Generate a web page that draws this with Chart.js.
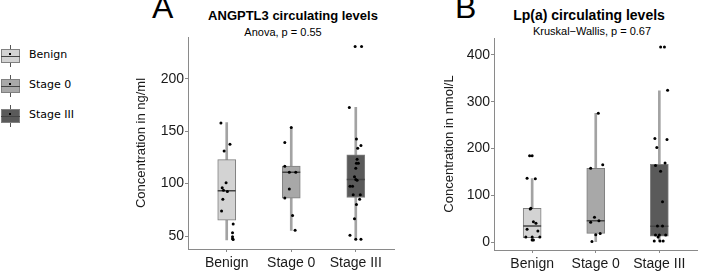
<!DOCTYPE html>
<html>
<head>
<meta charset="utf-8">
<script src="https://cdn.jsdelivr.net/npm/chart.js@4.4.1/dist/chart.umd.min.js"></script>
<style>
body { margin: 0; background: #fff; width: 708px; height: 274px; position: relative; overflow: hidden; font-family: "Liberation Sans", Arial, sans-serif; }
canvas { position: absolute; top: 0; }
.letter { position: absolute; font-size: 32px; line-height: 32px; color: #000; }
.title { position: absolute; width: 300px; text-align: center; font-weight: bold; color: #000; line-height: 1; }
.sub { position: absolute; width: 300px; text-align: center; font-size: 11px; line-height: 11px; color: #000; }
.leg { position: absolute; left: 0; height: 22px; }
.leg .wh { position: absolute; left: 10px; top: 0; width: 1px; height: 22px; background: #555; }
.leg .bx { position: absolute; left: 1px; top: 4px; width: 17px; height: 12px; border: 1px solid #808080; }
.leg .md { position: absolute; left: 1px; top: 11px; width: 19px; height: 1px; background: #444; }
.leg .dt { position: absolute; left: 9px; top: 8px; width: 2px; height: 2px; background: #000; }
.leg .tx { position: absolute; left: 29px; top: 3px; font-family: "DejaVu Sans", sans-serif; font-size: 11px; line-height: 14px; color: #000; white-space: nowrap; }
</style>
</head>
<body>
<div id="legend"></div>
<div class="letter" style="left:152px; top:-9px">A</div>
<div class="letter" style="left:455px; top:-9px">B</div>
<div class="title" style="left:143px; top:9px; font-size:13px">ANGPTL3 circulating levels</div>
<div class="sub" style="left:133px; top:27px">Anova, p = 0.55</div>
<div class="title" style="left:439px; top:8px; font-size:14px">Lp(a) circulating levels</div>
<div class="sub" style="left:442px; top:26px">Kruskal−Wallis, p = 0.67</div>
<canvas id="chartA" width="285" height="274" style="left:120px"></canvas>
<canvas id="chartB" width="288" height="274" style="left:420px"></canvas>
<script>
const categories = ["Benign", "Stage 0", "Stage III"]
const fills = ["#d3d3d3", "#a8a8a8", "#5a5a5a"]

// ANGPTL3, ng/ml : box stats per group
const angLow = [46.2, 55.4, 46.9]
const angQ1 = [65.2, 86.2, 86.8]
const angMedian = [93.2, 110.9, 104]
const angQ3 = [123, 116.7, 127.4]
const angHigh = [158.3, 153.5, 172.8]
const angTicks = [50, 100, 150, 200]

// ANGPTL3 raw points (value, jitter from group centre)
const angBenign = [158, 137.6, 131.2, 100.8, 96, 93.8, 92.5, 85, 73.8, 61.4, 53.2, 49.4, 47.4, 46.6]
const angBenignJit = [-0.09, 0.05, -0.04, -0.01, -0.07, -0.05, 0.01, -0.06, -0.08, 0.1, 0.09, 0.09, 0.09, 0.1]
const angStage0 = [153.5, 139.2, 116.7, 110.9, 110.9, 95, 86.2, 69.7, 55.4]
const angStage0Jit = [0, -0.1, -0.1, -0.03, 0.07, -0.03, -0.1, 0.02, 0.06]
const angStage3 = [230.9, 230.9, 172.8, 142.6, 136.3, 133.8, 123.3, 119.5, 119.5, 114.7, 106.5, 104, 103.3, 97.6, 97.6, 89.3, 89.3, 85, 80.2, 66.5, 50.7, 46.9, 46.9]
const angStage3Jit = [-0.01, 0.09, -0.1, 0.01, 0.08, 0.03, 0.02, 0.01, 0.04, 0, -0.02, 0, 0.02, -0.09, -0.05, -0.04, 0.07, 0.06, 0.01, -0.02, -0.09, 0, 0.08]

// Lp(a), nmol/L : box stats per group
const lpaLow = [4, 1, 2]
const lpaQ1 = [9.3, 18.5, 12.8]
const lpaMedian = [34.2, 45.6, 33.5]
const lpaQ3 = [72, 157.6, 166.2]
const lpaHigh = [135.4, 275.2, 323]
const lpaTicks = [0, 100, 200, 300, 400]

const lpaBenign = [184.6, 184.6, 136.2, 135.4, 72, 70.5, 43.4, 40, 27.1, 23.5, 10.7, 10.7, 10.7, 4.3, 4.3]
const lpaBenignJit = [-0.04, 0, -0.08, 0.05, -0.02, -0.03, 0.02, 0.06, -0.08, 0.09, -0.1, 0, 0.12, 0, 0.02]
const lpaStage0 = [275.2, 165.3, 157.6, 52.8, 45.6, 42.1, 18.5, 15.7, 1.4]
const lpaStage0Jit = [0.04, 0.11, -0.08, -0.02, 0.05, -0.08, 0.07, 0, -0.06]
const lpaStage3 = [417, 417, 324.4, 221, 218.9, 201.8, 169, 163.3, 151.2, 86.3, 34.2, 34.2, 15, 15, 15, 10.7, 2.1, 2.1, 2.1]
const lpaStage3Jit = [0.02, 0.08, 0.13, -0.07, 0.12, -0.04, 0.09, -0.06, 0.02, 0.05, -0.03, 0.05, -0.06, 0, 0.1, -0.02, -0.08, 0.01, 0.06]

// legend
var legend = document.getElementById("legend")
var legTops = [45, 75, 105]
categories.forEach(function (c, i) {
	var d = document.createElement("div")
	d.className = "leg"
	d.style.top = legTops[i] + "px"
	d.innerHTML = '<div class="wh"></div><div class="bx" style="background:' + fills[i] + '"></div><div class="md"></div><div class="dt"></div><div class="tx">' + c + '</div>'
	legend.appendChild(d)
})

function points(vals, jit, group) {
	return vals.map((v, i) => ({ x: group + jit[i], y: v }))
}

function makeChart(id, o) {
	const datasets = [
		{
			type: "scatter",
			data: [].concat(points(o.g1, o.j1, 1), points(o.g2, o.j2, 2), points(o.g3, o.j3, 3)),
			backgroundColor: "#000",
			borderWidth: 0,
			pointRadius: 1.5,
			order: 0
		},
		{
			type: "scatter",
			data: o.median.map((m, i) => ({ x: i + 1, y: m })),
			pointStyle: "line",
			pointRadius: 9,
			borderWidth: 1.5,
			borderColor: "#444",
			order: 1
		},
		{
			type: "bar",
			data: o.q1.map((q, i) => ({ x: i + 1, y: [q, o.q3[i]] })),
			backgroundColor: fills,
			borderColor: "#7f7f7f",
			borderWidth: 1,
			borderSkipped: false,
			barThickness: 18,
			grouped: false,
			order: 2
		},
		{
			type: "bar",
			data: o.low.map((l, i) => ({ x: i + 1, y: [l, o.high[i]] })),
			backgroundColor: "#a3a3a3",
			borderWidth: 0,
			barThickness: 2,
			grouped: false,
			order: 3
		}
	]

	return new Chart(document.getElementById(id), {
		type: "bar",
		data: { datasets: datasets },
		options: {
			responsive: false,
			animation: false,
			events: [],
			layout: { padding: { top: o.top, right: 5, left: 0, bottom: 0 } },
			plugins: { legend: { display: false }, tooltip: { enabled: false } },
			scales: {
				x: {
					type: "linear",
					min: 0.4,
					max: 3.6,
					offset: false,
					afterBuildTicks: s => { s.ticks = [1, 2, 3].map(v => ({ value: v })) },
					afterFit: s => { s.height = o.xh },
					ticks: {
						callback: v => categories[v - 1],
						color: "#1a1a1a",
						font: { family: "Liberation Sans", size: 14 },
						padding: 3,
						maxRotation: 0
					},
					grid: { display: true, drawOnChartArea: false, tickLength: 3, color: "#8a8a8a", offset: false },
					border: { display: true, color: "#8a8a8a", width: 1 }
				},
				y: {
					min: o.ymin,
					max: o.ymax,
					afterBuildTicks: s => { s.ticks = o.ticks.map(v => ({ value: v })) },
					afterFit: s => { s.width = o.yw },
					ticks: {
						color: "#1a1a1a",
						font: { family: "Liberation Sans", size: 14 },
						padding: 1
					},
					grid: { display: true, drawOnChartArea: false, tickLength: 3, color: "#8a8a8a" },
					border: { display: true, color: "#8a8a8a", width: 1 },
					title: {
						display: true,
						text: o.ytitle,
						color: "#1a1a1a",
						font: { family: "Liberation Sans", size: 13 },
						padding: { top: o.tpad, bottom: 0 }
					}
				}
			}
		}
	})
}

makeChart("chartA", {
	g1: angBenign, j1: angBenignJit, g2: angStage0, j2: angStage0Jit, g3: angStage3, j3: angStage3Jit,
	low: angLow, q1: angQ1, median: angMedian, q3: angQ3, high: angHigh, ticks: angTicks,
	ymin: 37.6, ymax: 240, ytitle: "Concentration in ng/ml",
	top: 37, xh: 25, yw: 68, tpad: 14
})

makeChart("chartB", {
	g1: lpaBenign, j1: lpaBenignJit, g2: lpaStage0, j2: lpaStage0Jit, g3: lpaStage3, j3: lpaStage3Jit,
	low: lpaLow, q1: lpaQ1, median: lpaMedian, q3: lpaQ3, high: lpaHigh, ticks: lpaTicks,
	ymin: -17, ymax: 436, ytitle: "Concentration in nmol/L",
	top: 38, xh: 24, yw: 74, tpad: 22
})
</script>
</body>
</html>
